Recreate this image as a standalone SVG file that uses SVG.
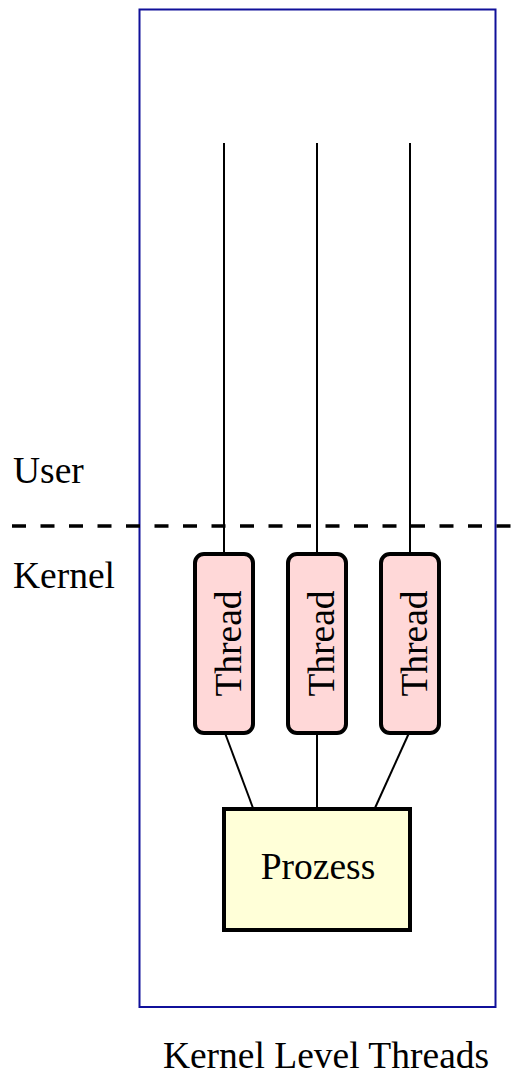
<svg xmlns="http://www.w3.org/2000/svg" width="519" height="1075" viewBox="0 0 519 1075">
<style>
text{font-family:"Times New Roman","Liberation Serif",Tinos,"DejaVu Serif",serif;font-size:37.5px;fill:#000}
.thread rect{fill:#ffd8d8;stroke:#000;stroke-width:4}
.edge{stroke:#000;stroke-width:2;fill:none}
</style>
<rect width="519" height="1075" fill="#fff"/>
<g id="cluster">
<rect x="139.5" y="9.5" width="356" height="997.5" fill="none" stroke="#10109a" stroke-width="2"/>
<text x="326" y="1068" text-anchor="middle">Kernel Level Threads</text>
</g>
<g id="separator">
<line x1="12" y1="526" x2="519" y2="526" stroke="#000" stroke-width="3.5" stroke-dasharray="14,14.5"/>
<text x="13" y="483">User</text>
<text x="13" y="588">Kernel</text>
</g>
<g id="connectors">
<line class="edge" x1="224" y1="143" x2="224" y2="555"/>
<line class="edge" x1="317" y1="143" x2="317" y2="555"/>
<line class="edge" x1="410" y1="143" x2="410" y2="555"/>
<line class="edge" x1="225" y1="733" x2="253" y2="808"/>
<line class="edge" x1="317" y1="733" x2="317" y2="808"/>
<line class="edge" x1="409" y1="733" x2="375" y2="808"/>
</g>
<g id="thread1" class="thread">
<rect x="195" y="554" width="58" height="179" rx="9"/>
<text transform="translate(240.5,643.5) rotate(-90)" text-anchor="middle">Thread</text>
</g>
<g id="thread2" class="thread">
<rect x="288" y="554" width="58" height="179" rx="9"/>
<text transform="translate(333.5,643.5) rotate(-90)" text-anchor="middle">Thread</text>
</g>
<g id="thread3" class="thread">
<rect x="381" y="554" width="58" height="179" rx="9"/>
<text transform="translate(426.5,643.5) rotate(-90)" text-anchor="middle">Thread</text>
</g>
<g id="prozess">
<rect x="224" y="809" width="186" height="121" fill="#ffffd8" stroke="#000" stroke-width="4"/>
<text x="318" y="879" text-anchor="middle">Prozess</text>
</g>
</svg>
